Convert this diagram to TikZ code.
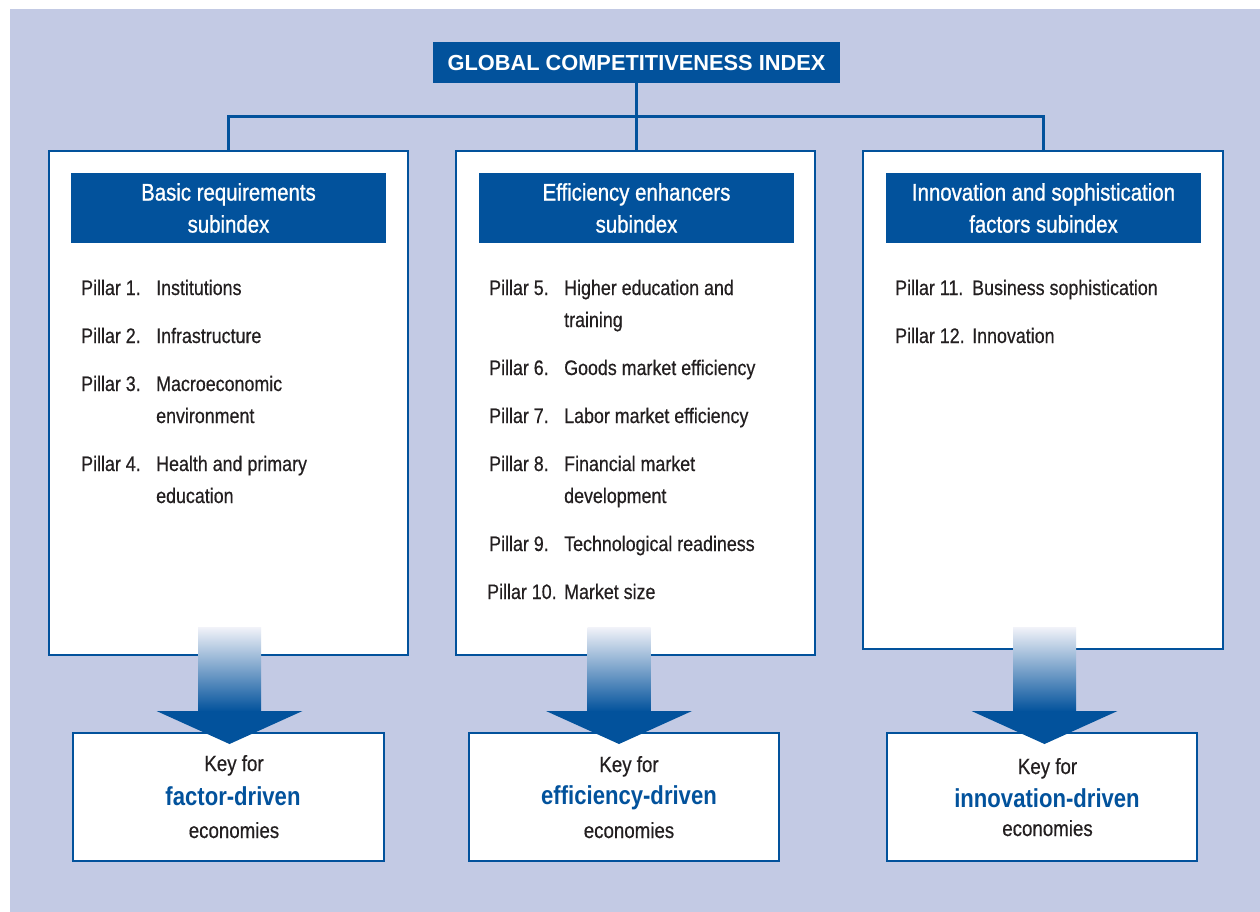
\documentclass[tikz,border=0pt]{standalone}
\usepackage{fontspec}
\setmainfont{Liberation Sans}[FakeStretch=0.85]
\newfontfamily\titlefont{Liberation Sans}
\newfontfamily\bodyfont{Liberation Sans}[FakeStretch=0.85, FakeBold=0.5]
\newfontfamily\headfont{Liberation Sans}[FakeStretch=0.85, FakeBold=1.0]
\usetikzlibrary{calc}
\definecolor{gciblue}{HTML}{02529C}
\definecolor{bgblue}{HTML}{C3CAE4}
\definecolor{txt}{HTML}{231F20}
\definecolor{shtop}{HTML}{F2F3F9}
\definecolor{shmid}{HTML}{8A9CCD}
\tikzset{
  conn/.style={draw=gciblue, line width=3pt},
  panel/.style={draw=gciblue, line width=2pt, fill=white, inner sep=0pt},
  hdr/.style={fill=gciblue, text=white, inner sep=0pt, align=center,
    minimum width=315pt, minimum height=70pt, font=\headfont\fontsize{24}{32}\selectfont},
  item/.style={anchor=base west, inner sep=0pt, text=txt, font=\bodyfont\fontsize{21}{25}\selectfont},
  keybox/.style={draw=gciblue, line width=2pt, fill=white, inner sep=0pt,
    minimum width=310pt, minimum height=128pt},
  keytxt/.style={anchor=base, inner sep=0pt, text=txt, font=\bodyfont\fontsize{22}{26}\selectfont},
  keybold/.style={anchor=base, inner sep=0pt, text=gciblue, font=\fontsize{26}{30}\selectfont\bfseries},
}
\newcommand\flowarrow[2]{%
  \shade[top color=shtop, middle color=shmid, bottom color=gciblue]
    ($(#1 |- #2.north)+(-31.5,-105)$) rectangle ($(#1 |- #2.north)+(31.5,-20.5)$);
  \fill[gciblue] ($(#1 |- #2.north)+(-73,-21)$) -- ($(#1 |- #2.north)+(73,-21)$)
    -- ($(#1 |- #2.north)+(0,12)$) -- cycle;}
\begin{document}
\begin{tikzpicture}[x=1pt,y=-1pt]
\useasboundingbox (0,0) rectangle (1260,912);
\fill[bgblue] (10,9) rectangle (1260,912);

% title
\node[fill=gciblue, text=white, inner sep=0pt, minimum width=407pt, minimum height=41pt,
  font=\titlefont\fontsize{21.8}{26}\selectfont\bfseries] (gci) at (636.5,62.5)
  {GLOBAL COMPETITIVENESS INDEX};
\coordinate (hub) at (636.5,116.5);

% panels
\node[panel, minimum width=359pt, minimum height=504pt] (pl) at (228.5,403) {};
\node[panel, minimum width=359pt, minimum height=504pt] (pm) at (635.5,403) {};
\node[panel, minimum width=360pt, minimum height=498pt] (pr) at (1043,400) {};

\draw[conn] (gci.south) -- (hub) -- (hub |- pm.north);
\draw[conn] (pl.north) |- (hub) -| (pr.north);

% headers
\node[hdr] (h1) at (228.5,208) {Basic requirements\\subindex};
\node[hdr] (h2) at (636.5,208) {Efficiency enhancers\\subindex};
\node[hdr] (h3) at (1043.5,208) {Innovation and sophistication\\factors subindex};

% left pillars
\node[item] (p1) at (81,295) {Pillar 1.};
\node[item] (p1t) at (156,295) {Institutions};
\node[item] (p2) at (81,343) {Pillar 2.};
\node[item] (p2t) at (156,343) {Infrastructure};
\node[item] (p3) at (81,391) {Pillar 3.};
\node[item] (p3t) at (156,391) {Macroeconomic};
\node[item] (p3u) at (156,423) {environment};
\node[item] (p4) at (81,471) {Pillar 4.};
\node[item] (p4t) at (156,471) {Health and primary};
\node[item] (p4u) at (156,503) {education};

% middle pillars
\node[item] (p5) at (489,295) {Pillar 5.};
\node[item] (p5t) at (564,295) {Higher education and};
\node[item] (p5u) at (564,327) {training};
\node[item] (p6) at (489,375) {Pillar 6.};
\node[item] (p6t) at (564,375) {Goods market efficiency};
\node[item] (p7) at (489,423) {Pillar 7.};
\node[item] (p7t) at (564,423) {Labor market efficiency};
\node[item] (p8) at (489,471) {Pillar 8.};
\node[item] (p8t) at (564,471) {Financial market};
\node[item] (p8u) at (564,503) {development};
\node[item] (p9) at (489,551) {Pillar 9.};
\node[item] (p9t) at (564,551) {Technological readiness};
\node[item] (p10) at (487,599) {Pillar 10.};
\node[item] (p10t) at (564,599) {Market size};

% right pillars
\node[item] (p11) at (895,295) {Pillar 11.};
\node[item] (p11t) at (972,295) {Business sophistication};
\node[item] (p12) at (895,343) {Pillar 12.};
\node[item] (p12t) at (972,343) {Innovation};

% key boxes
\node[keybox, minimum width=311pt] (k1) at (228.5,797) {};
\node[keybox] (k2) at (624,797) {};
\node[keybox] (k3) at (1042,797) {};

\node[keytxt] (k1a) at (234,771) {Key for};
\node[keybold] (k1b) at (233,805) {factor-driven};
\node[keytxt] (k1c) at (234,838) {economies};
\node[keytxt] (k2a) at (629,772) {Key for};
\node[keybold] (k2b) at (629,804) {efficiency-driven};
\node[keytxt] (k2c) at (629,838) {economies};
\node[keytxt] (k3a) at (1047.5,774) {Key for};
\node[keybold] (k3b) at (1047,807) {innovation-driven};
\node[keytxt] (k3c) at (1047.5,836) {economies};

% arrows
\coordinate (ax1) at (229.5,700);
\coordinate (ax2) at (619,700);
\coordinate (ax3) at (1044.5,700);
\flowarrow{ax1}{k1}
\flowarrow{ax2}{k2}
\flowarrow{ax3}{k3}
\end{tikzpicture}
\end{document}
